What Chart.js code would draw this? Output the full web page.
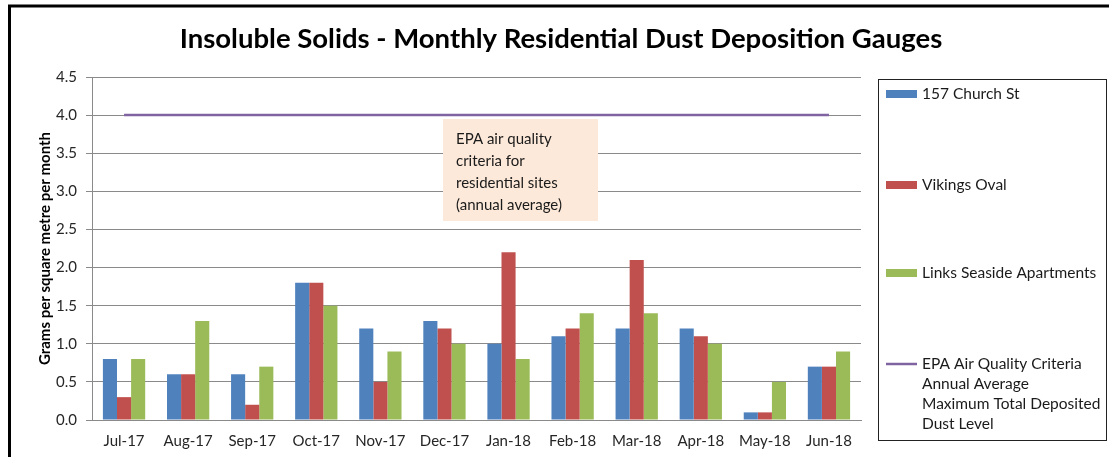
<!DOCTYPE html>
<html lang="en">
<head>
    <meta charset="UTF-8">
    <title>Insoluble Solids - Monthly Residential Dust Deposition Gauges</title>
    <style>
        body {
            margin: 0;
            padding: 0;
            background-color: #ffffff;
        }

        .wrap {
            position: relative;
            width: 1109px;
            height: 457px;
        }
    </style>
    <script src="https://cdn.jsdelivr.net/npm/chart.js"></script>
</head>
<body>
    <div class="wrap">
        <canvas id="dustChart" width="1109" height="457"></canvas>
    </div>

    <script>
        // Data
        const months = ["Jul-17", "Aug-17", "Sep-17", "Oct-17", "Nov-17", "Dec-17",
                        "Jan-18", "Feb-18", "Mar-18", "Apr-18", "May-18", "Jun-18"];
        const church = [0.8, 0.6, 0.6, 1.8, 1.2, 1.3, 1.0, 1.1, 1.2, 1.2, 0.1, 0.7];
        const vikings = [0.3, 0.6, 0.2, 1.8, 0.5, 1.2, 2.2, 1.2, 2.1, 1.1, 0.1, 0.7];
        const links = [0.8, 1.3, 0.7, 1.5, 0.9, 1.0, 0.8, 1.4, 1.4, 1.0, 0.5, 0.9];
        const epaLimit = [4.0, 4.0, 4.0, 4.0, 4.0, 4.0, 4.0, 4.0, 4.0, 4.0, 4.0, 4.0];

        const seriesNames = ["157 Church St", "Vikings Oval", "Links Seaside Apartments",
                             "EPA Air Quality Criteria Annual Average Maximum Total Deposited Dust Level"];
        const legendLines = [["157 Church St"], ["Vikings Oval"], ["Links Seaside Apartments"],
                             ["EPA Air Quality Criteria", "Annual Average", "Maximum Total Deposited", "Dust Level"]];
        const noteLines = ["EPA air quality", "criteria for", "residential sites", "(annual average)"];

        const colors = ["#4f81bd", "#c0504d", "#9bbb59", "#8064a2"];
        const FONT = "Lato, 'Open Sans', sans-serif";

        // Frame, title, note box and legend are drawn by hand
        const decorPlugin = {
            id: "decor",
            beforeDraw(chart) {
                const c = chart.ctx;
                c.save();
                c.fillStyle = "#ffffff";
                c.fillRect(0, 0, chart.width, chart.height);
                c.strokeStyle = "#000000";
                c.lineWidth = 3;
                c.strokeRect(9.5, 6, 1120, 480);
                c.restore();
            },
            beforeDatasetsDraw(chart) {
                const c = chart.ctx;
                const a = chart.chartArea;
                // note box
                const bx = a.left + 351, by = a.top + 42;
                c.save();
                c.fillStyle = "#fde9d9";
                c.fillRect(bx, by, 155, 102);
                c.fillStyle = "#1a1a1a";
                c.font = "15px " + FONT;
                c.textBaseline = "middle";
                noteLines.forEach((t, i) => c.fillText(t, bx + 13, by + 20 + i * 22));
                c.restore();
            },
            afterDraw(chart) {
                const c = chart.ctx;
                c.save();
                // title
                c.fillStyle = "#000000";
                c.font = "bold 27.5px " + FONT;
                c.textAlign = "center";
                c.textBaseline = "middle";
                c.fillText("Insoluble Solids - Monthly Residential Dust Deposition Gauges", 561, 39);

                // legend box
                c.strokeStyle = "#222222";
                c.lineWidth = 1;
                c.strokeRect(878.5, 79.5, 228, 361);
                const rows = [94, 185, 273, 364];
                c.font = "15.5px " + FONT;
                c.textAlign = "left";
                legendLines.forEach((lines, i) => {
                    const y = rows[i];
                    if (i < 3) {
                        c.fillStyle = colors[i];
                        c.fillRect(886, y - 4, 31, 8);
                    } else {
                        c.strokeStyle = colors[i];
                        c.lineWidth = 2.5;
                        c.beginPath();
                        c.moveTo(886, y);
                        c.lineTo(917, y);
                        c.stroke();
                    }
                    c.fillStyle = "#1a1a1a";
                    lines.forEach((t, j) => c.fillText(t, 922, y + j * 20));
                });
                c.restore();
            }
        };

        const ctx = document.getElementById("dustChart").getContext("2d");
        const dustChart = new Chart(ctx, {
            type: "bar",
            data: {
                labels: months,
                datasets: [
                    { label: seriesNames[0], data: church, backgroundColor: colors[0], order: 2 },
                    { label: seriesNames[1], data: vikings, backgroundColor: colors[1], order: 2 },
                    { label: seriesNames[2], data: links, backgroundColor: colors[2], order: 2 },
                    {
                        type: "line",
                        label: seriesNames[3],
                        data: epaLimit,
                        borderColor: colors[3],
                        borderWidth: 2.5,
                        pointRadius: 0,
                        fill: false,
                        order: 1
                    }
                ]
            },
            options: {
                responsive: false,
                animation: false,
                devicePixelRatio: 1,
                categoryPercentage: 0.66,
                barPercentage: 1.0,
                layout: {
                    padding: { left: 0, top: 77, right: 248, bottom: 0 }
                },
                plugins: {
                    legend: { display: false },
                    title: { display: false },
                    tooltip: { enabled: false }
                },
                scales: {
                    x: {
                        grid: { display: false, drawTicks: false },
                        border: { display: true, color: "#8a8a8a", width: 1 },
                        ticks: {
                            color: "#262626",
                            font: { family: FONT, size: 15 },
                            padding: 12,
                            maxRotation: 0
                        },
                        afterFit(scale) { scale.height = 37; }
                    },
                    y: {
                        min: 0,
                        max: 4.5,
                        grid: { color: "#8a8a8a", lineWidth: 1, tickLength: 6 },
                        border: { display: true, color: "#8a8a8a", width: 1 },
                        ticks: {
                            stepSize: 0.5,
                            color: "#262626",
                            font: { family: FONT, size: 15 },
                            padding: 9,
                            callback: v => Number(v).toFixed(1)
                        },
                        title: {
                            display: true,
                            text: "Grams per square metre per month",
                            color: "#000000",
                            font: { family: FONT, size: 15, weight: "bold" },
                            padding: { top: 36, bottom: 0 }
                        },
                        afterFit(scale) { scale.width = 92; }
                    }
                }
            },
            plugins: [decorPlugin]
        });
    </script>
</body>
</html>
